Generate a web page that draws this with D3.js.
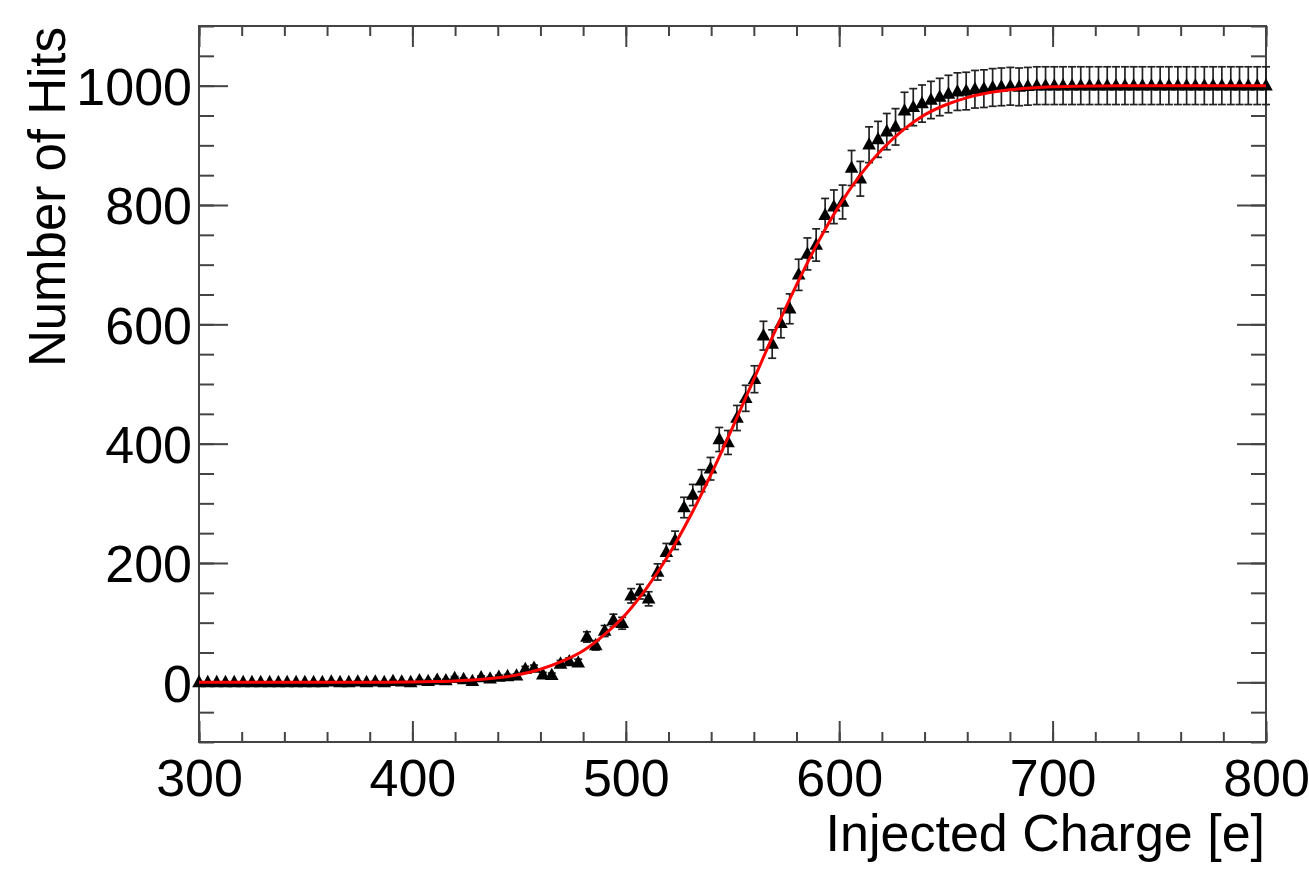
<!DOCTYPE html>
<html>
<head>
<meta charset="utf-8">
<script src="https://cdn.jsdelivr.net/npm/d3@7"></script>
<style>
  html, body { margin: 0; padding: 0; background: #fff; }
  svg { display: block; }
  text { font-family: "Liberation Sans", Arial, Helvetica, sans-serif; fill: #000; }
</style>
</head>
<body>
<svg id="chart" width="1309" height="873"></svg>
<script>
// ---- data ----
const charge = [
  300.0, 304.1, 308.3, 312.4, 316.5, 320.7, 324.8, 328.9, 333.1, 337.2,
  341.3, 345.5, 349.6, 353.7, 357.8, 362.0, 366.1, 370.2, 374.4, 378.5,
  382.6, 386.8, 390.9, 395.0, 399.2, 403.3, 407.4, 411.6, 415.7, 419.8,
  424.0, 428.1, 432.2, 436.4, 440.5, 444.6, 448.8, 452.9, 457.0, 461.1,
  465.3, 469.4, 473.5, 477.7, 481.8, 485.9, 490.1, 494.2, 498.3, 502.5,
  506.6, 510.7, 514.9, 519.0, 523.1, 527.3, 531.4, 535.5, 539.7, 543.8,
  547.9, 552.1, 556.2, 560.3, 564.5, 568.6, 572.7, 576.8, 581.0, 585.1,
  589.2, 593.4, 597.5, 601.6, 605.8, 609.9, 614.0, 618.2, 622.3, 626.4,
  630.6, 634.7, 638.8, 643.0, 647.1, 651.2, 655.4, 659.5, 663.6, 667.8,
  671.9, 676.0, 680.2, 684.3, 688.4, 692.6, 696.7, 700.8, 704.9, 709.1,
  713.2, 717.3, 721.5, 725.6, 729.7, 733.9, 738.0, 742.1, 746.3, 750.4,
  754.5, 758.7, 762.8, 766.9, 771.1, 775.2, 779.3, 783.5, 787.6, 791.7,
  795.9, 800.0
];
const hits = [
  0, 0, 0, 0, 0, 0, 0, 0, 0, 0,
  0, 0, 0, 0, 0, 1, 0, 0, 1, 0,
  1, 0, 2, 1, 0, 3, 2, 4, 3, 7,
  5, 2, 8, 6, 9, 10, 11, 22, 24, 13,
  12, 31, 35, 33, 76, 62, 86, 104, 99, 145,
  152, 140, 185, 218, 238, 293, 314, 338, 358, 407,
  402, 443, 476, 508, 581, 567, 602, 626, 683, 718,
  733, 783, 797, 805, 862, 844, 901, 910, 923, 931,
  958, 964, 970, 976, 981, 986, 990, 991, 994, 995,
  997, 998, 999, 998, 999, 1000, 1000, 1000, 1000, 1000,
  1000, 1000, 1000, 1000, 1000, 1000, 1000, 1000, 1000, 1000,
  1000, 1000, 1000, 1000, 1000, 1000, 1000, 1000, 1000, 1000,
  1000, 1000
];
// fitted S-curve (red)
const fitCharge = [300, 320, 340, 360, 380, 400, 410, 420, 430, 440, 450, 460, 470, 480, 490,
  500, 510, 520, 530, 540, 550, 560, 570, 580, 590, 600, 610, 620, 630, 640, 650, 660,
  670, 680, 690, 700, 710, 720, 740, 760, 780, 800];
const fitHits = [0, 0, 0, 0, 0.1, 0.6, 1.2, 2.3, 4.2, 7.6, 13, 22, 35, 53, 80,
  114, 159, 213, 277, 349, 427, 508, 589, 666, 737, 799, 851, 893, 926, 951, 968, 980,
  988, 993, 996, 998, 999, 999.5, 999.9, 1000, 1000, 1000];

const xTicks = [300, 400, 500, 600, 700, 800];
const yTicks = [0, 200, 400, 600, 800, 1000];
const xTitle = "Injected Charge [e]";
const yTitle = "Number of Hits";

// ---- layout ----
const svg = d3.select("#chart");
const L = 199, R = 1266, T = 26, B = 742;
const x = d3.scaleLinear().domain([300, 800]).range([L, R]);
const y = d3.scaleLinear().domain([-100, 1100]).range([B, T]);
const frameColor = "#444";
const tickFont = 52;

svg.append("rect").attr("width", 1309).attr("height", 873).attr("fill", "#fff");

const xMinor = d3.range(300, 801, 20);
const yMinor = d3.range(-100, 1101, 50);

function styleAxis(g) {
  g.select(".domain").remove();
  g.selectAll(".tick line").attr("stroke", frameColor).attr("stroke-width", 2);
}

// bottom axis
svg.append("g").attr("transform", `translate(0,${B})`)
  .call(d3.axisBottom(x).tickValues(xMinor).tickSize(-10).tickFormat(""))
  .call(styleAxis);
svg.append("g").attr("transform", `translate(0,${B})`)
  .call(d3.axisBottom(x).tickValues(xTicks).tickSize(-21).tickPadding(17).tickFormat(d3.format("d")))
  .call(styleAxis)
  .call(g => g.selectAll("text").attr("font-size", tickFont).attr("fill", "#000"));
// top axis
svg.append("g").attr("transform", `translate(0,${T})`)
  .call(d3.axisTop(x).tickValues(xMinor).tickSize(-10).tickFormat(""))
  .call(styleAxis);
svg.append("g").attr("transform", `translate(0,${T})`)
  .call(d3.axisTop(x).tickValues(xTicks).tickSize(-21).tickFormat(""))
  .call(styleAxis);
// left axis
svg.append("g").attr("transform", `translate(${L},0)`)
  .call(d3.axisLeft(y).tickValues(yMinor).tickSize(-15).tickFormat(""))
  .call(styleAxis);
svg.append("g").attr("transform", `translate(${L},0)`)
  .call(d3.axisLeft(y).tickValues(yTicks).tickSize(-29).tickPadding(7).tickFormat(d3.format("d")))
  .call(styleAxis)
  .call(g => g.selectAll("text").attr("font-size", tickFont).attr("dy", "0.36em").attr("fill", "#000"));
// right axis
svg.append("g").attr("transform", `translate(${R},0)`)
  .call(d3.axisRight(y).tickValues(yMinor).tickSize(-15).tickFormat(""))
  .call(styleAxis);
svg.append("g").attr("transform", `translate(${R},0)`)
  .call(d3.axisRight(y).tickValues(yTicks).tickSize(-29).tickFormat(""))
  .call(styleAxis);

// frame
svg.append("rect").attr("x", L).attr("y", T).attr("width", R - L).attr("height", B - T)
  .attr("fill", "none").attr("stroke", frameColor).attr("stroke-width", 2);

// data
const pts = charge.map((c, i) => ({ c, v: hits[i], e: Math.sqrt(hits[i]) }));

const gData = svg.append("g");
// error bars
const eb = gData.selectAll("g.eb").data(pts.filter(d => d.e > 0)).join("g").attr("class", "eb");
eb.append("line")
  .attr("x1", d => x(d.c)).attr("x2", d => x(d.c))
  .attr("y1", d => y(d.v + d.e)).attr("y2", d => y(d.v - d.e))
  .attr("stroke", "#222").attr("stroke-width", 1.7);
eb.append("line")
  .attr("x1", d => x(d.c) - 4).attr("x2", d => x(d.c) + 4)
  .attr("y1", d => y(d.v + d.e)).attr("y2", d => y(d.v + d.e))
  .attr("stroke", "#222").attr("stroke-width", 1.7);
eb.append("line")
  .attr("x1", d => x(d.c) - 4).attr("x2", d => x(d.c) + 4)
  .attr("y1", d => y(d.v - d.e)).attr("y2", d => y(d.v - d.e))
  .attr("stroke", "#222").attr("stroke-width", 1.7);

// triangle markers
const tri = "M0,-7.5L6.8,4.8L-6.8,4.8Z";
gData.selectAll("path.mk").data(pts).join("path").attr("class", "mk")
  .attr("d", tri)
  .attr("transform", d => `translate(${x(d.c)},${y(d.v)})`)
  .attr("fill", "#000");

// fit curve
const fit = fitCharge.map((c, i) => [c, fitHits[i]]);
svg.append("path").datum(fit)
  .attr("d", d3.line().x(d => x(d[0])).y(d => y(d[1])).curve(d3.curveMonotoneX))
  .attr("fill", "none").attr("stroke", "#ff0000").attr("stroke-width", 3);

// titles
svg.append("text").attr("x", 1265).attr("y", 851).attr("text-anchor", "end")
  .attr("font-size", 52).text(xTitle);
svg.append("text").attr("transform", "translate(65,27) rotate(-90)")
  .attr("text-anchor", "end").attr("font-size", 51).text(yTitle);
</script>
</body>
</html>
